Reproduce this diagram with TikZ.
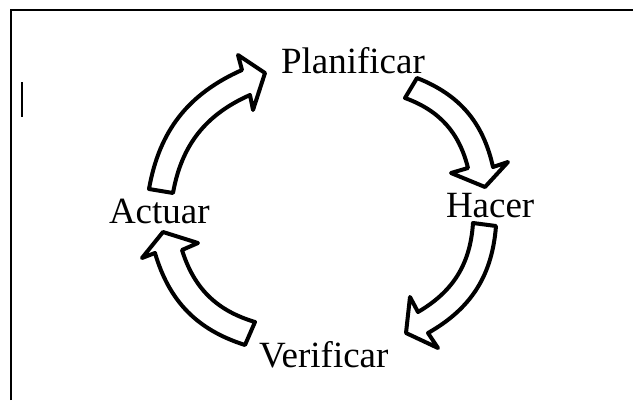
\documentclass[tikz,border=0pt]{standalone}
\usepackage{fontspec}
\setmainfont{Liberation Serif}

\begin{document}
\begin{tikzpicture}[x=1pt, y=1pt, line width=2pt,
	label/.style={anchor=base west, inner sep=0pt, font=\fontsize{37}{44}\selectfont},
	blockarrow/.style={draw, fill=white, line width=4pt, line join=round}]
	\useasboundingbox (0,0) rectangle (633,-400);

	% frame and cursor
	\draw (11,-400) -- (11,-10) -- (633,-10);
	\draw (22,-82) -- (22,-117);

	\node[label] (plan)   at (280,-73)  {Planificar};
	\node[label] (hacer)  at (445,-217) {Hacer};
	\node[label] (verif)  at (258,-367) {Verificar};
	\node[label] (actuar) at (108,-223) {Actuar};

	% actuar -> planificar
	\draw[blockarrow] (149,-189) to[bend left=28] (242,-70) -- (238,-55) -- (265,-73)
		-- (253,-110) -- (250,-95) to[bend right=28] (173,-193) -- cycle;
	% planificar -> hacer
	\draw[blockarrow] (417,-78) to[bend left=28] (493,-167) -- (508,-162) -- (485,-187)
		-- (451,-173) -- (468,-168) to[bend right=28] (405,-98) -- cycle;
	% hacer -> verificar
	\draw[blockarrow] (496,-226) to[bend left=28] (428,-333) -- (438,-348) -- (406,-333)
		-- (410,-297) -- (418,-312) to[bend right=28] (473,-223) -- cycle;
	% verificar -> actuar
	\draw[blockarrow] (255,-322) to[bend left=28] (182,-250) -- (198,-243) -- (163,-232)
		-- (142,-258) -- (155,-253) to[bend right=28] (245,-345) -- cycle;
\end{tikzpicture}
\end{document}
